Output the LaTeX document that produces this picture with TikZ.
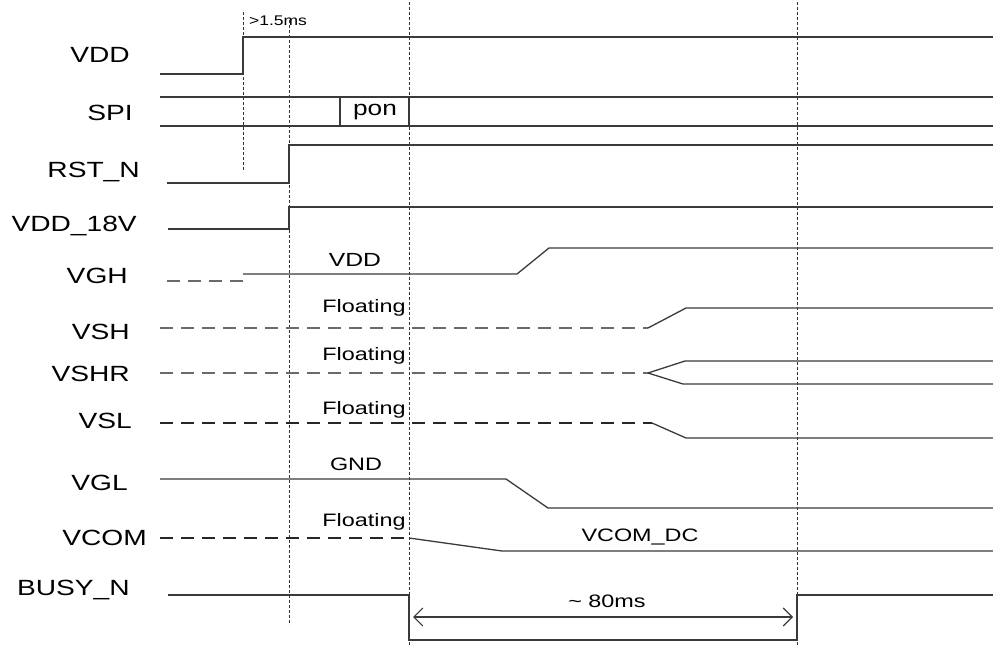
\documentclass[tikz,border=0pt]{standalone}
\usepackage{fontspec}
\setmainfont{Liberation Sans}
\usetikzlibrary{arrows.meta}
\definecolor{sig}{HTML}{3A3A3A}
\definecolor{dsh}{HTML}{6A6A6A}
\begin{document}
\begin{tikzpicture}[x=1pt,y=-1pt,
  lbl/.style={anchor=east,inner sep=0pt,xscale=1.28,font=\fontsize{22}{24}\selectfont},
  note/.style={inner sep=0pt,xscale=1.3,font=\fontsize{18}{20}\selectfont},
  wave/.style={draw=sig,line width=1.3pt},
  flt/.style={draw=dsh,line width=1.3pt,dash pattern=on 13pt off 8pt},
  fltk/.style={draw=black!85,line width=1.3pt,dash pattern=on 13pt off 8pt},
  guide/.style={draw=black!80,line width=1pt,dash pattern=on 3pt off 2pt}]
\useasboundingbox (0,0) rectangle (993,647);
% labels
\node[lbl] (lvdd)  at (130,55) {VDD};
\node[lbl] (lspi)  at (133,113) {SPI};
\node[lbl] (lrst)  at (140,172) {RST\_N};
\node[lbl] (l18)   at (137,226) {VDD\_18V};
\node[lbl] (lvgh)  at (128,276) {VGH};
\node[lbl] (lvsh)  at (130,332) {VSH};
\node[lbl] (lvshr) at (130,374) {VSHR};
\node[lbl] (lvsl)  at (132,421) {VSL};
\node[lbl] (lvgl)  at (128,483) {VGL};
\node[lbl] (lvcom) at (147,538) {VCOM};
\node[lbl] (lbusy) at (130,590) {BUSY\_N};
% guides
\draw[guide] (243,12) -- (243,172);
\draw[guide] (289,20) -- (289,625);
\draw[guide] (409,2) -- (409,647);
\draw[guide] (797,2) -- (797,647);
% VDD
\draw[wave] (160,74) -- (243,74) -- (243,37) -- (993,37);
\node[inner sep=0pt,xscale=1.25,font=\fontsize{14}{16}\selectfont] (t15) at (278,21) {>1.5ms};
% SPI
\draw[wave] (160,97) -- (993,97);
\draw[wave] (160,126) -- (993,126);
\draw[wave] (340,126) -- (340,97);
\draw[wave] (409,97) -- (409,126);
\node[inner sep=0pt,xscale=1.25,font=\fontsize{21}{23}\selectfont] (pon) at (375,112) {pon};
% RST_N
\draw[wave] (167,183) -- (289,183) -- (289,145) -- (993,145);
% VDD_18V
\draw[wave] (168,229) -- (289,229) -- (289,207) -- (993,207);
% VGH
\draw[flt] (167,281) -- (243,281);
\draw[wave] (243,274) -- (517,274) -- (549,248) -- (993,248);
\node[note,font=\fontsize{19}{21}\selectfont] (tvdd) at (355,260) {VDD};
% VSH
\draw[flt] (160,328) -- (648,328);
\draw[wave] (648,328) -- (686,308) -- (993,308);
\node[note] (f1) at (364,308) {Floating};
% VSHR
\draw[flt] (160,373) -- (648,373);
\draw[wave] (648,373) -- (685,361) -- (993,361);
\draw[wave] (648,373) -- (683,384) -- (993,384);
\node[note] (f2) at (364,356) {Floating};
% VSL
\draw[fltk] (160,423) -- (652,423);
\draw[wave] (652,423) -- (686,438) -- (993,438);
\node[note] (f3) at (364,410) {Floating};
% VGL
\draw[wave] (160,479) -- (506,479) -- (548,508) -- (993,508);
\node[note] (gnd) at (356,464) {GND};
% VCOM
\draw[fltk] (160,538) -- (405,538);
\draw[wave] (409,538) -- (502,551) -- (993,551);
\node[note] (f4) at (364,522) {Floating};
\node[note] (vcdc) at (640,537) {VCOM\_DC};
% BUSY_N
\draw[wave] (168,595) -- (409,595) -- (409,640) -- (797,640) -- (797,595) -- (993,595);
\coordinate (a1) at (413,617);
\coordinate (a2) at (793,617);
\draw[draw=sig,line width=1.1pt,{Straight Barb[length=9pt,width=18pt]}-{Straight Barb[length=9pt,width=18pt]}] (a1) -- (a2);
\node[note] (t80) at (607,601) {\textasciitilde{} 80ms};
\end{tikzpicture}
\end{document}
